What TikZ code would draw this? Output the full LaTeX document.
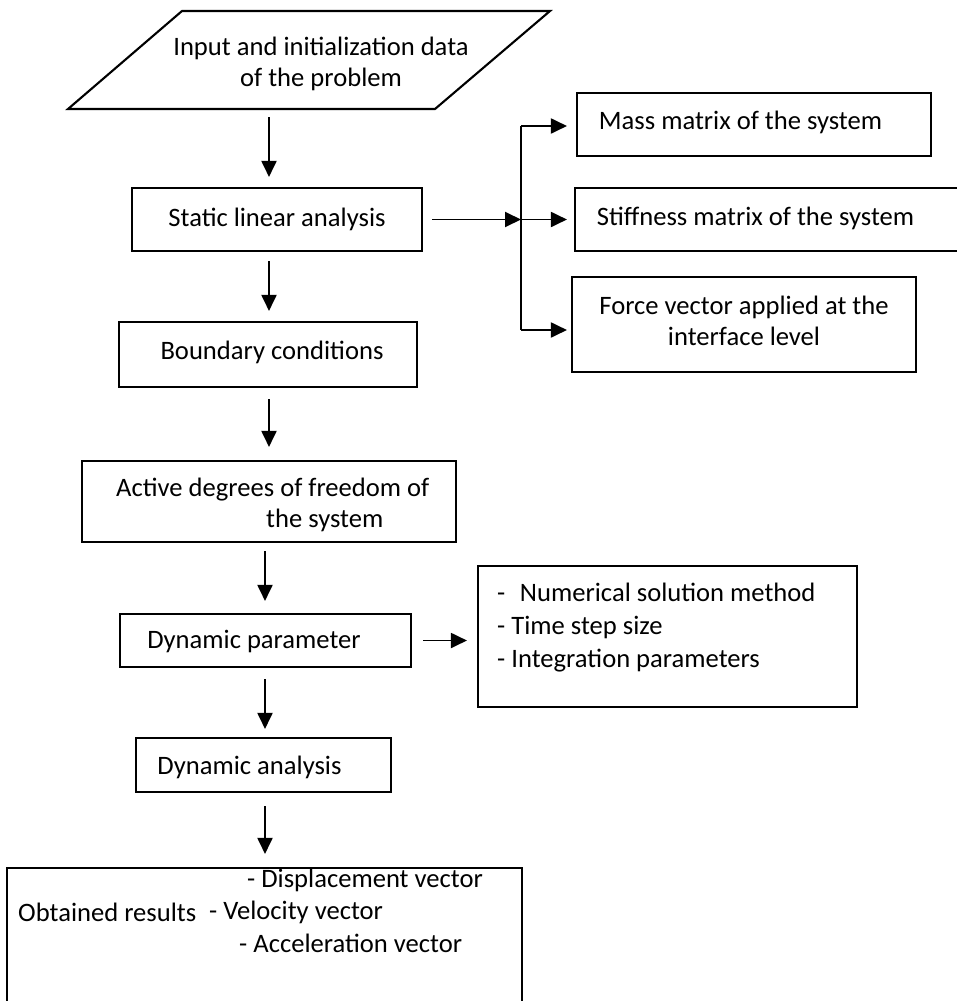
\documentclass[tikz,border=0pt]{standalone}
\usepackage{fontspec}
\setmainfont{Carlito}
\usetikzlibrary{arrows.meta}
\begin{document}
\begin{tikzpicture}[x=1pt,y=-1pt,
  box/.style={draw, line width=2.1pt, inner sep=0pt},
  txt/.style={font=\fontsize{26.6}{31}\selectfont, inner sep=0pt, align=center},
  arr/.style={line width=1.9pt, -{Triangle[length=16pt,width=15pt]}},
  ln/.style={line width=1.9pt}]
\useasboundingbox (0,0) rectangle (956,1001);
% input parallelogram
\coordinate (pa) at (182,11);
\coordinate (pb) at (550,11);
\coordinate (pc) at (435,109);
\coordinate (pd) at (68,109);
\draw[line width=2.1pt, line join=miter] (pa) -- (pb) -- (pc) -- (pd) -- cycle;
\node[txt] (input) at (321,64) {Input and initialization data\\of the problem};
\coordinate (inbot) at (269,109);
\coordinate (colB) at (265,0);
% boxes
\node[box, minimum width=290pt, minimum height=63pt] (static) at (277,219.5) {};
\node[txt] (statict) at (277,219) {Static linear analysis};
\node[box, minimum width=354pt, minimum height=63pt] (mass) at (754,124.5) {};
\node[txt] (masst) at (740.5,122) {Mass matrix of the system};
\node[box, minimum width=383pt, minimum height=63pt] (stiff) at (766.5,219.5) {};
\node[txt] (stifft) at (755.5,218) {Stiffness matrix of the system};
\node[box, minimum width=344pt, minimum height=95pt] (force) at (744,324.5) {};
\node[txt] (forcet) at (744,321) {Force vector applied at the\\interface level};
\node[box, minimum width=298pt, minimum height=65pt] (bound) at (268,354.5) {};
\node[txt] (boundt) at (272,352) {Boundary conditions};
\node[box, minimum width=374pt, minimum height=81pt] (active) at (269,501.5) {};
\node[txt, align=left, anchor=west] (activet) at (116,505) {Active degrees of freedom of\\\hspace*{150pt}the system};
\node[box, minimum width=291pt, minimum height=53pt] (dynp) at (265.5,640.5) {};
\node[txt] (dynpt) at (254,641) {Dynamic parameter};
\node[box, minimum width=379pt, minimum height=141pt] (num) at (667.5,636.5) {};
\node[txt, align=left, anchor=west, font=\fontsize{26.6}{33}\selectfont] (numt) at (497,628) {-\hspace{0.55em}Numerical solution method\\- Time step size\\- Integration parameters};
\node[box, minimum width=255pt, minimum height=54pt] (dyna) at (263.5,765) {};
\node[txt] (dynat) at (249.5,767) {Dynamic analysis};
\node[box, minimum width=515pt, minimum height=164pt] (obt) at (264.5,950) {};
\node[txt, anchor=west] (obtt) at (18,912) {Obtained results};
\node[txt, anchor=west] (disp) at (247,880) {- Displacement vector};
\node[txt, anchor=west] (velo) at (209,912) {- Velocity vector};
\node[txt, anchor=west] (acce) at (239,943) {- Acceleration vector};
% branch
\coordinate (br) at (521,219.5);
\coordinate (brt) at (521,126);
\coordinate (brb) at (521,330);
\draw[arr, shorten <=9pt] (static.east) -- (br);
\draw[ln] (brt) -- (brb);
\draw[arr, shorten >=9pt] (brt) -- (brt -| mass.west);
\draw[arr, shorten >=7pt] (br) -- (stiff.west);
\draw[arr, shorten >=4pt] (brb) -- (brb -| force.west);
% vertical flow
\draw[arr, shorten <=8pt, shorten >=10pt] (inbot) -- (static.north -| inbot);
\draw[arr, shorten <=9pt, shorten >=10pt] (static.south -| inbot) -- (bound.north -| inbot);
\draw[arr, shorten <=11pt, shorten >=13pt] (bound.south -| inbot) -- (active.north -| inbot);
\draw[arr, shorten <=8pt, shorten >=12pt] (active.south -| colB) -- (dynp.north -| colB);
\draw[arr, shorten <=11pt, shorten >=8pt] (dynp.south -| colB) -- (dyna.north -| colB);
\draw[arr, shorten <=13pt, shorten >=13pt] (dyna.south -| colB) -- (obt.north -| colB);
\draw[arr, shorten <=11pt, shorten >=10pt] (dynp.east) -- (dynp.east -| num.west);
\end{tikzpicture}
\end{document}
